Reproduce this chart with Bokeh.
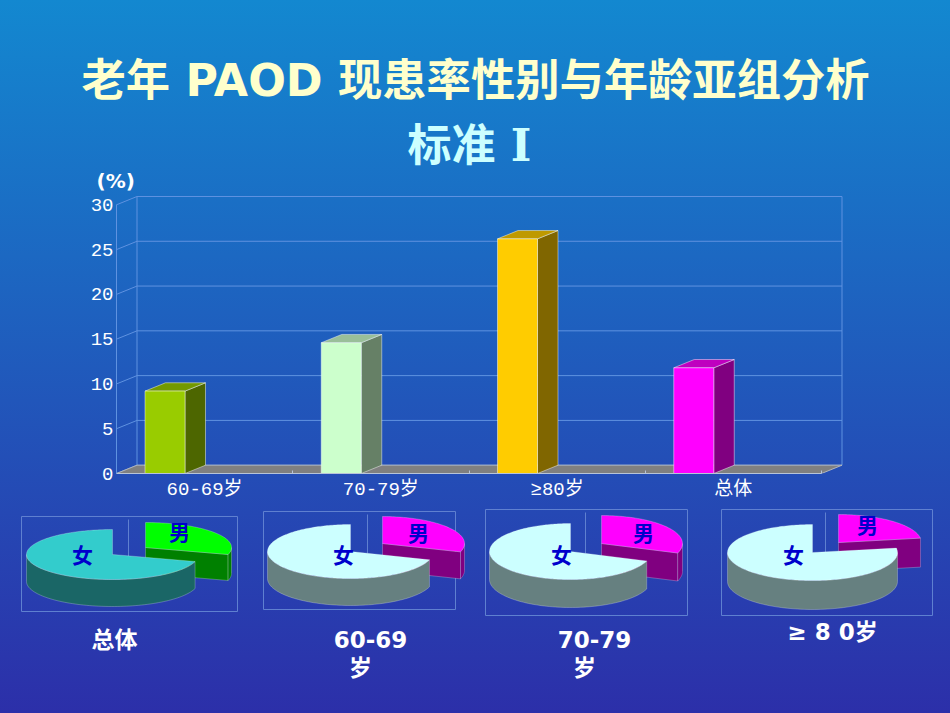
import numpy as np
from bokeh.core.properties import value
from bokeh.embed import file_html
from bokeh.layouts import column, row
from bokeh.models import (FixedTicker, GlobalInlineStyleSheet, Range1d)
from bokeh.plotting import figure
from bokeh.resources import INLINE

# ---------- data ----------
TITLE_LINE_1 = "老年 PAOD 现患率性别与年龄亚组分析"
TITLE_LINE_2 = "标准 I"
UNIT_LABEL = "(%)"
CATEGORIES = ["60-69岁", "70-79岁", "≥80岁", "总体"]
PREVALENCE = [9.2, 14.6, 26.2, 11.8]
VALUE_TICKS = [0, 5, 10, 15, 20, 25, 30]
BAR_FRONT = ["#99CC00", "#CCFFCC", "#FFCC00", "#FF00FF"]
BAR_SIDE = ["#4D6600", "#668066", "#806600", "#800080"]
BAR_TOP = ["#739900", "#99BF99", "#BF9900", "#BF00BF"]

MALE_SHARE = [29.5, 30.0, 30.5, 22.5]
FEMALE_SHARE = [70.5, 70.0, 69.5, 77.5]
PIE_LABELS = [["总体"], ["60-69", "岁"], ["70-79", "岁"], ["≥ 8 0岁"]]
FEMALE_TOP = ["#33CCCC", "#CCFFFF", "#CCFFFF", "#CCFFFF"]
FEMALE_SIDE = ["#1A6666", "#668080", "#668080", "#668080"]
MALE_TOP = ["#00FF00", "#FF00FF", "#FF00FF", "#FF00FF"]
MALE_SIDE = ["#008000", "#800080", "#800080", "#800080"]

# ---------- layout (page pixels) ----------
CSS = ("html{min-height:100%;background:linear-gradient(180deg,#1388D0 0,#2C2FA9 713px) no-repeat;}"
       "body{background:transparent;}")
SANS = "DejaVu Sans, 'Noto Sans CJK SC'"
SERIF = "DejaVu Serif, 'Noto Sans CJK SC'"
TICK_FONT = "Liberation Mono, 'Noto Sans CJK SC'"
GRID = "#5F92E0"
PAGE_W, PAGE_H = 950, 713
TITLE_H = 195
ROW_Y = 505


def clean(p):
    p.background_fill_alpha = 0
    p.border_fill_alpha = 0
    p.outline_line_color = None
    p.grid.visible = False
    p.frame_align = False


# ---------- title ----------
title = figure(width=PAGE_W, height=TITLE_H, output_backend="svg", toolbar_location=None,
               x_range=Range1d(0, PAGE_W), y_range=Range1d(TITLE_H, 0),
               min_border=0, x_axis_location=None, y_axis_location=None)
clean(title)
title.text([475], [80], text=[TITLE_LINE_1], text_font=value(SANS), text_font_style="bold",
           text_font_size="44.3px", text_color="#FFFFCC", text_align="center", text_baseline="middle")
title.text([469], [145], text=[TITLE_LINE_2], text_font=value(SERIF), text_font_style="bold",
           text_font_size="44px", text_color="#CCFFFF", text_align="center", text_baseline="middle")
title.text([96], [180], text=[UNIT_LABEL], text_font=value("DejaVu Sans"), text_font_style="bold",
           text_font_size="20px", text_color="#FFFFFF", text_align="left", text_baseline="middle")

# ---------- bar chart ----------
F_LEFT, F_RIGHT, F_TOP, F_BOTTOM = 116, 844, TITLE_H, 472.7
PX_PER_CAT = 176.25
PX_PER_VAL = 8.947
dx = 20.5 / PX_PER_CAT
dy = 8.3 / PX_PER_VAL
bar_off = 28.5 / PX_PER_CAT
bar_w = 40.0 / PX_PER_CAT
n = len(CATEGORIES)

bars = figure(width=PAGE_W, height=ROW_Y - TITLE_H, output_backend="svg", toolbar_location=None,
              x_range=Range1d(0, (F_RIGHT - F_LEFT) / PX_PER_CAT),
              y_range=Range1d(0, (F_BOTTOM - F_TOP) / PX_PER_VAL),
              min_border_left=F_LEFT, min_border_right=PAGE_W - F_RIGHT,
              min_border_top=F_TOP - TITLE_H, min_border_bottom=int(ROW_Y - F_BOTTOM))
clean(bars)

xax = bars.xaxis[0]
xax.ticker = FixedTicker(ticks=[i + 0.5 for i in range(n)], minor_ticks=list(range(n + 1)))
xax.major_label_overrides = {i + 0.5: c for i, c in enumerate(CATEGORIES)}
xax.bounds = (0, n)
xax.axis_line_color = "#B8C4D8"
xax.major_tick_line_color = None
xax.major_tick_in = 0
xax.major_tick_out = 0
xax.minor_tick_in = 3
xax.minor_tick_out = 0
xax.minor_tick_line_color = "#B8C4D8"
xax.major_label_text_color = "#FFFFFF"
xax.major_label_text_font = TICK_FONT
xax.major_label_text_font_size = "19px"
xax.major_label_standoff = 5

yax = bars.yaxis[0]
yax.ticker = FixedTicker(ticks=VALUE_TICKS)
yax.bounds = (VALUE_TICKS[0], VALUE_TICKS[-1])
yax.axis_line_color = GRID
yax.major_tick_line_color = None
yax.major_tick_in = 0
yax.major_tick_out = 0
yax.minor_tick_line_color = None
yax.major_label_text_color = "#FFFFFF"
yax.major_label_text_font = TICK_FONT
yax.major_label_text_font_size = "19px"
yax.major_label_standoff = 3

# walls
bars.segment([dx] * len(VALUE_TICKS), [v + dy for v in VALUE_TICKS],
             [n + dx] * len(VALUE_TICKS), [v + dy for v in VALUE_TICKS], line_color=GRID, line_width=1)
bars.segment([0] * len(VALUE_TICKS), VALUE_TICKS, [dx] * len(VALUE_TICKS),
             [v + dy for v in VALUE_TICKS], line_color=GRID, line_width=1)
top_v = VALUE_TICKS[-1] + dy
bars.segment([dx, n + dx], [dy, dy], [dx, n + dx], [top_v, top_v], line_color=GRID, line_width=1)
# floor
bars.patch([0, n, n + dx, dx], [0, 0, dy, dy], fill_color="#808080", line_color="#B0B4BC", line_width=1)

# bars
lefts = [i + bar_off for i in range(n)]
rights = [l + bar_w for l in lefts]
EDGE = dict(line_color="#FFFFFF", line_alpha=0.45, line_width=1)
bars.patches([[r, r + dx, r + dx, r] for r in rights],
             [[0, dy, v + dy, v] for v in PREVALENCE], fill_color=BAR_SIDE, **EDGE)
bars.patches([[l, r, r + dx, l + dx] for l, r in zip(lefts, rights)],
             [[v, v, v + dy, v + dy] for v in PREVALENCE], fill_color=BAR_TOP, **EDGE)
bars.vbar(x=[(l + r) / 2 for l, r in zip(lefts, rights)], top=PREVALENCE, bottom=0, width=bar_w,
          fill_color=BAR_FRONT, **EDGE)

# ---------- pies ----------
PIE_FIG = [(0, 250), (250, 470), (470, 704), (704, PAGE_W)]
PIE_BOX = [(21, 237, 516, 611), (263, 455, 511, 609), (485, 687, 509, 615), (721, 932, 509, 615)]
WALL_X = [128, 367, 585, 825]
F_GEOM = [(112, 554, 86, 25, 27), (350, 551, 83, 27, 27), (570, 551, 81, 28, 28), (812, 552, 85, 28, 29)]
M_GEOM = [(145, 547, 86, 25, 26), (382, 543, 82, 27, 27), (601, 543, 81, 28, 28), (838, 542, 83, 28, 29)]
F_POS = [(82, 555), (343, 555), (561, 555), (793, 555)]
M_POS = [(179, 532), (418, 533), (643, 533), (867, 525)]
LABEL_POS = [[(114, 639)], [(370, 639), (360, 667)], [(594, 639), (584, 667)], [(832, 631)]]
PIE_EDGE = dict(line_color="#FFFFFF", line_alpha=0.3, line_width=0.8)


def arc(g, a0, a1, drop=0.0, k=80):
    cx, cy, rx, ry, _ = g
    t = np.radians(np.linspace(a0, a1, k))
    return list(cx + rx * np.cos(t)), list(cy - ry * np.sin(t) + drop)


def strip(g, a0, a1):
    x1, y1 = arc(g, a0, a1)
    x2, y2 = arc(g, a0, a1, drop=g[4])
    return x1 + x2[::-1], y1 + y2[::-1]


pies = []
for i, (f0, f1) in enumerate(PIE_FIG):
    p = figure(width=f1 - f0, height=PAGE_H - ROW_Y, output_backend="svg", toolbar_location=None,
               x_range=Range1d(f0, f1), y_range=Range1d(PAGE_H, ROW_Y), min_border=0,
               x_axis_location=None, y_axis_location=None)
    clean(p)
    xl, xr, yt, yb = PIE_BOX[i]
    p.quad(left=[xl], right=[xr], top=[yt], bottom=[yb], fill_alpha=0, line_color="#5F80D0", line_width=1)
    fg, mg = F_GEOM[i], M_GEOM[i]
    p.segment([WALL_X[i]], [yt + 3], [WALL_X[i]], [fg[1] + 2], line_color="#5F80D0", line_width=1)
    end = 90 - 360 * MALE_SHARE[i] / 100.0      # the cut shared by the two slices

    # male slice
    ex, ey = arc(mg, end, end, k=1)
    p.patch([mg[0], ex[0], ex[0], mg[0]], [mg[1], ey[0], ey[0] + mg[4], mg[1] + mg[4]],
            fill_color=MALE_SIDE[i], **PIE_EDGE)
    if end < 0:
        xs, ys = strip(mg, end, 0)
        p.patch(xs, ys, fill_color=MALE_SIDE[i], **PIE_EDGE)
    xs, ys = arc(mg, 90, end)
    p.patch([mg[0]] + xs, [mg[1]] + ys, fill_color=MALE_TOP[i], **PIE_EDGE)

    # female slice
    xs, ys = strip(fg, 180, 360 + min(end, 0))
    p.patch(xs, ys, fill_color=FEMALE_SIDE[i], **PIE_EDGE)
    xs, ys = arc(fg, 90, 360 + end, k=200)
    p.patch([fg[0]] + xs, [fg[1]] + ys, fill_color=FEMALE_TOP[i], **PIE_EDGE)

    for txt, (tx, ty) in (("女", F_POS[i]), ("男", M_POS[i])):
        p.text([tx], [ty], text=[txt], text_font=value(SANS), text_font_style="bold", text_font_size="21px",
               text_color="#0000CC", text_align="center", text_baseline="middle")
    for txt, (tx, ty) in zip(PIE_LABELS[i], LABEL_POS[i]):
        p.text([tx], [ty], text=[txt], text_font=value(SANS), text_font_style="bold", text_font_size="23px",
               text_color="#FFFFFF", text_align="center", text_baseline="middle")
    pies.append(p)

page = column(title, bars, row(*pies, spacing=0), spacing=0,
              stylesheets=[GlobalInlineStyleSheet(css=CSS)])
open("out.html", "w").write(file_html(page, INLINE))
